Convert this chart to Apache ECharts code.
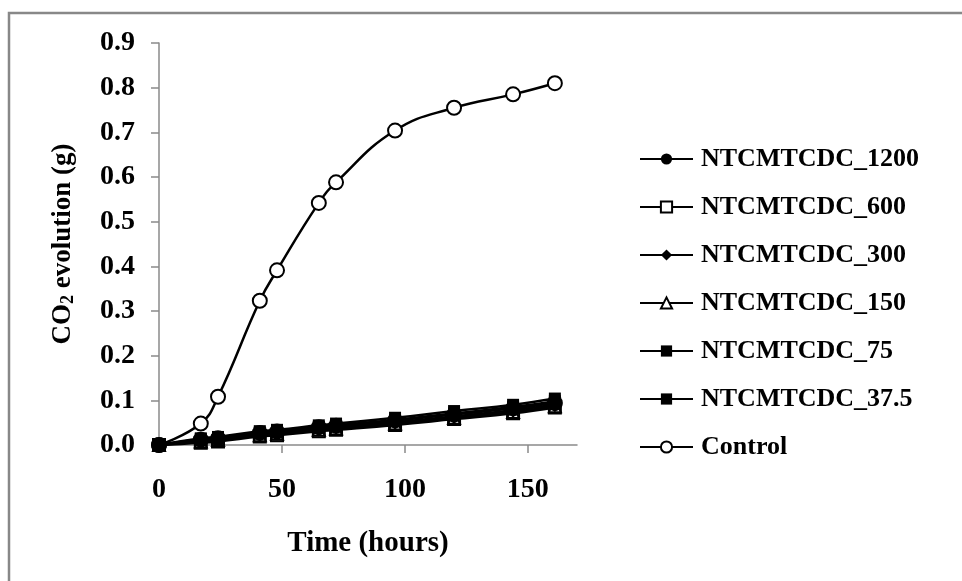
<!DOCTYPE html>
<html>
<head>
<meta charset="utf-8">
<script src="https://cdn.jsdelivr.net/npm/echarts@6/dist/echarts.min.js"></script>
<style>html,body{margin:0;padding:0;background:#fff}#c{width:962px;height:581px}</style>
</head>
<body>
<div id="c"></div>
<script>
const hours = [0, 17, 24, 41, 48, 65, 72, 96, 120, 144, 161];
const seriesNames = ['NTCMTCDC_1200', 'NTCMTCDC_600', 'NTCMTCDC_300', 'NTCMTCDC_150', 'NTCMTCDC_75', 'NTCMTCDC_37.5', 'Control'];
const ntc1200 = [0, 0.012, 0.015, 0.027, 0.030, 0.040, 0.043, 0.055, 0.068, 0.082, 0.094];
const ntc600  = [0, 0.005, 0.008, 0.019, 0.022, 0.031, 0.034, 0.045, 0.058, 0.071, 0.084];
const ntc300  = [0, 0.010, 0.013, 0.024, 0.027, 0.036, 0.040, 0.051, 0.064, 0.078, 0.090];
const ntc150  = [0, 0.008, 0.011, 0.022, 0.025, 0.034, 0.037, 0.048, 0.061, 0.074, 0.087];
const ntc75   = [0, 0.015, 0.018, 0.031, 0.034, 0.044, 0.048, 0.061, 0.076, 0.090, 0.104];
const ntc37_5 = [0, 0.013, 0.016, 0.028, 0.031, 0.040, 0.044, 0.056, 0.071, 0.085, 0.098];
const control = [0, 0.048, 0.108, 0.323, 0.391, 0.542, 0.588, 0.704, 0.755, 0.785, 0.810];
const xTicks = [0, 50, 100, 150];

const FONT = 'Liberation Serif';
const valuesList = [ntc1200, ntc600, ntc300, ntc150, ntc75, ntc37_5, control];
const symbols = ['circle', 'emptyRect', 'diamond', 'emptyTriangle', 'rect', 'rect', 'emptyCircle'];
const sizes = [16, 12, 15, 12, 12, 12, 14];
// draw order: 1200 last so its filled circle sits on top at the origin
const drawOrder = [1, 3, 2, 5, 4, 6, 0];

const series = drawOrder.map(i => ({
  name: seriesNames[i],
  type: 'line',
  data: hours.map((h, k) => [h, valuesList[i][k]]),
  smooth: 0.45,
  clip: false,
  z: i === 0 ? 10 : 2,
  symbol: symbols[i],
  symbolSize: sizes[i],
  showSymbol: true,
  lineStyle: { color: '#000', width: 2.5 },
  itemStyle: { color: '#000', borderColor: '#000', borderWidth: symbols[i].startsWith('empty') ? 1.3 : 0 },
  emphasis: { disabled: true }
}));

const chart = echarts.init(document.getElementById('c'));
chart.setOption({
  animation: false,
  backgroundColor: '#fff',
  graphic: [{
    type: 'rect',
    shape: { x: 9, y: 13, width: 2000, height: 2000 },
    style: { fill: 'none', stroke: '#888', lineWidth: 2.5 },
    silent: true
  }],
  grid: { left: 159, top: 43, width: 418, height: 402, containLabel: false, outerBoundsMode: 'none' },
  legend: {
    orient: 'vertical', left: 639, top: 145, padding: 0,
    itemWidth: 53, itemHeight: 14, itemGap: 20, selectedMode: false,
    data: seriesNames,
    textStyle: { fontFamily: FONT, fontSize: 26, fontWeight: 'bold', color: '#000', lineHeight: 28, padding: [0, 0, 0, 3] }
  },
  xAxis: {
    type: 'value', min: 0, max: 170, interval: 50,
    axisLine: { show: true, lineStyle: { color: '#8a8a8a', width: 1.5 } },
    axisTick: { show: true, length: 8, customValues: xTicks, lineStyle: { color: '#8a8a8a', width: 1.5 } },
    axisLabel: { customValues: xTicks, margin: 31, fontFamily: FONT, fontSize: 28, fontWeight: 'bold', color: '#000' },
    splitLine: { show: false },
    name: 'Time (hours)', nameLocation: 'middle', nameGap: 84,
    nameTextStyle: { fontFamily: FONT, fontSize: 29, fontWeight: 'bold', color: '#000' }
  },
  yAxis: {
    type: 'value', min: 0, max: 0.9, interval: 0.1,
    axisLine: { show: true, lineStyle: { color: '#8a8a8a', width: 1.5 } },
    axisTick: { show: true, length: 8, lineStyle: { color: '#8a8a8a', width: 1.5 } },
    axisLabel: { margin: 24, fontFamily: FONT, fontSize: 28, fontWeight: 'bold', color: '#000', formatter: v => v.toFixed(1) },
    splitLine: { show: false },
    name: 'CO{s|2} evolution (g)', nameLocation: 'middle', nameGap: 82, nameRotate: 90,
    nameTextStyle: {
      fontFamily: FONT, fontSize: 27, fontWeight: 'bold', color: '#000',
      rich: { s: { fontFamily: FONT, fontSize: 18, fontWeight: 'bold', color: '#000', verticalAlign: 'bottom', padding: [10, 0, 0, 0] } }
    }
  },
  series: series
});
</script>
</body>
</html>
